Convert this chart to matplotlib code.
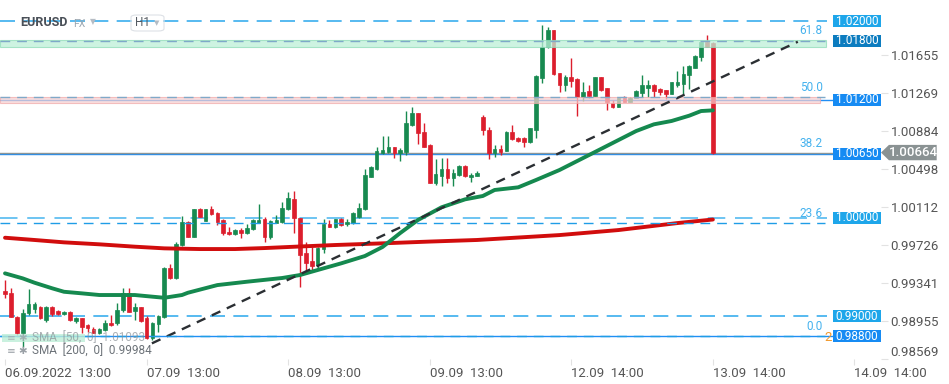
import matplotlib
matplotlib.use("Agg")
import matplotlib.pyplot as plt
import matplotlib.transforms as mtransforms
from matplotlib.patches import Rectangle, Polygon, FancyBboxPatch

plt.rcParams["font.family"] = ["Roboto", "DejaVu Sans"]

# EURUSD H1 candles
opens = [0.99260, 0.99240, 0.98996, 0.98828, 0.99031, 0.99072, 0.99092, 0.98963, 0.99098, 0.99054,
         0.99024, 0.99047, 0.98956, 0.98980, 0.98912, 0.98871, 0.98834, 0.98861, 0.98935, 0.98929,
         0.99064, 0.99234, 0.99057, 0.99092, 0.98980, 0.98777, 0.98922, 0.98996, 0.99488, 0.99386,
         0.99725, 0.99962, 0.99809, 1.00088, 0.99972, 1.00088, 1.00053, 0.99979, 0.99860, 0.99834,
         0.99877, 0.99844, 0.99884, 0.99951, 0.99986, 0.99803, 0.99951, 0.99962, 1.00088, 1.00189,
         0.99996, 0.99641, 0.99565, 0.99521, 0.99681, 0.99938, 0.99905, 0.99986, 0.99935, 0.99945,
         1.00012, 1.00088, 1.00419, 1.00497, 1.00657, 1.00667, 1.00717, 1.00657, 1.00667, 1.00944,
         1.01063, 1.00870, 1.00741, 1.00358, 1.00426, 1.00494, 1.00403, 1.00436, 1.00531, 1.00413,
         1.00426, 1.01022, 1.00893, 1.00663, 1.00697, 1.00683, 1.00876, 1.00809, 1.00809, 1.00768,
         1.00893, 1.01425, 1.01740, 1.01909, 1.01469, 1.01350, 1.01435, 1.01411, 1.01232, 1.01289,
         1.01239, 1.01429, 1.01317, 1.01165, 1.01130, 1.01221, 1.01181, 1.01221, 1.01272, 1.01323,
         1.01350, 1.01310, 1.01297, 1.01262, 1.01350, 1.01361, 1.01452, 1.01526, 1.01638, 1.01784,
         1.01774]
highs = [0.99369, 0.99285, 0.99006, 0.99072, 0.99275, 0.99149, 0.99105, 0.99105, 0.99105, 0.99064,
         0.99054, 0.99054, 0.98996, 0.98986, 0.98919, 0.98895, 0.98881, 0.98963, 0.99014, 0.99133,
         0.99285, 0.99285, 0.99133, 0.99098, 0.99003, 0.98946, 0.99014, 0.99504, 0.99532, 0.99758,
         1.00019, 0.99969, 1.00091, 1.00098, 1.00091, 1.00121, 1.00063, 0.99986, 0.99905, 0.99887,
         0.99895, 0.99938, 0.99986, 1.00141, 1.00012, 0.99979, 1.00030, 1.00165, 1.00266, 1.00273,
         1.00000, 0.99758, 0.99701, 0.99701, 0.99986, 0.99979, 0.99989, 0.99999, 0.99989, 1.00060,
         1.00152, 1.00497, 1.00527, 1.00724, 1.00832, 1.00832, 1.00724, 1.00707, 1.01086, 1.01124,
         1.01069, 1.00961, 1.00751, 1.00596, 1.00606, 1.00606, 1.00494, 1.00538, 1.00538, 1.00453,
         1.00477, 1.01046, 1.00921, 1.00741, 1.00741, 1.00883, 1.00944, 1.00825, 1.00825, 1.00917,
         1.01449, 1.01960, 1.01937, 1.01912, 1.01475, 1.01452, 1.01622, 1.01419, 1.01384, 1.01350,
         1.01435, 1.01432, 1.01323, 1.01198, 1.01218, 1.01236, 1.01229, 1.01297, 1.01452, 1.01401,
         1.01358, 1.01317, 1.01303, 1.01384, 1.01493, 1.01543, 1.01554, 1.01655, 1.01787, 1.01858,
         1.01784]
lows = [0.99186, 0.98993, 0.98810, 0.98692, 0.99014, 0.99031, 0.98975, 0.98946, 0.99006, 0.99019,
        0.99019, 0.98956, 0.98935, 0.98831, 0.98844, 0.98831, 0.98826, 0.98851, 0.98902, 0.98912,
        0.99047, 0.99040, 0.98963, 0.98946, 0.98767, 0.98760, 0.98844, 0.98980, 0.99379, 0.99376,
        0.99715, 0.99806, 0.99806, 1.00006, 0.99969, 1.00030, 0.99928, 0.99826, 0.99826, 0.99826,
        0.99793, 0.99837, 0.99877, 0.99945, 0.99758, 0.99783, 0.99945, 0.99951, 1.00080, 0.99844,
        0.99301, 0.99454, 0.99471, 0.99471, 0.99641, 0.99905, 0.99898, 0.99918, 0.99918, 0.99938,
        0.99999, 1.00080, 1.00413, 1.00487, 1.00649, 1.00657, 1.00606, 1.00581, 1.00639, 1.00934,
        1.00751, 1.00717, 1.00352, 1.00334, 1.00324, 1.00352, 1.00324, 1.00426, 1.00419, 1.00368,
        1.00421, 1.00842, 1.00596, 1.00622, 1.00639, 1.00677, 1.00792, 1.00774, 1.00724, 1.00758,
        1.00815, 1.01368, 1.01729, 1.01455, 1.01282, 1.01289, 1.01333, 1.01039, 1.01188, 1.01215,
        1.01234, 1.01292, 1.01096, 1.01114, 1.01127, 1.01175, 1.01178, 1.01218, 1.01232, 1.01232,
        1.01232, 1.01249, 1.01205, 1.01259, 1.01333, 1.01256, 1.01310, 1.01520, 1.01594, 1.01734,
        1.00650]
closes = [0.99224, 0.98996, 0.98834, 0.99037, 0.99125, 0.99125, 0.98980, 0.99098, 0.99024, 0.99024,
          0.99047, 0.98963, 0.98980, 0.98895, 0.98878, 0.98834, 0.98871, 0.98935, 0.98912, 0.99064,
          0.99234, 0.99047, 0.99092, 0.98956, 0.98777, 0.98935, 0.99003, 0.99488, 0.99386, 0.99735,
          0.99962, 0.99809, 1.00088, 1.00012, 1.00088, 1.00040, 0.99962, 0.99844, 0.99834, 0.99877,
          0.99844, 0.99895, 0.99979, 0.99979, 0.99803, 0.99972, 0.99979, 1.00098, 1.00199, 0.99996,
          0.99623, 0.99545, 0.99511, 0.99691, 0.99938, 0.99911, 0.99986, 0.99928, 0.99962, 1.00047,
          1.00098, 1.00436, 1.00520, 1.00680, 1.00690, 1.00717, 1.00657, 1.00690, 1.00961, 1.01063,
          1.00860, 1.00724, 1.00358, 1.00446, 1.00497, 1.00403, 1.00453, 1.00527, 1.00426, 1.00433,
          1.00453, 1.00893, 1.00663, 1.00697, 1.00670, 1.00876, 1.00799, 1.00784, 1.00768, 1.00910,
          1.01442, 1.01740, 1.01909, 1.01459, 1.01350, 1.01435, 1.01394, 1.01232, 1.01276, 1.01239,
          1.01429, 1.01300, 1.01175, 1.01130, 1.01215, 1.01181, 1.01221, 1.01289, 1.01350, 1.01350,
          1.01289, 1.01282, 1.01262, 1.01378, 1.01378, 1.01459, 1.01543, 1.01648, 1.01784, 1.01740,
          1.00664]

# moving averages (sampled off the chart)
sma50_idx = [0, 3, 5, 8, 10, 13, 16, 19, 22, 25, 27, 30, 31, 36, 41, 47, 50, 53, 57, 61, 64, 67, 70,
             74, 78, 81, 83, 87, 90, 94, 99, 103, 107, 110, 113, 116, 118, 120]
sma50_val = [0.99437, 0.99386, 0.99342, 0.99285, 0.99250, 0.99234, 0.99217, 0.99217, 0.99217, 0.99200,
             0.99189, 0.99217, 0.99240, 0.99318, 0.99352, 0.99390, 0.99420, 0.99471, 0.99539, 0.99613,
             0.99705, 0.99847, 0.99979, 1.00108, 1.00189, 1.00223, 1.00284, 1.00311, 1.00385, 1.00487,
             1.00639, 1.00761, 1.00883, 1.00951, 1.00985, 1.01039, 1.01086, 1.01093]
sma200_idx = [0, 5, 10, 16, 22, 27, 33, 39, 44, 50, 56, 64, 72, 80, 94, 104, 114, 120]
sma200_val = [0.99799, 0.99776, 0.99752, 0.99732, 0.99708, 0.99691, 0.99684, 0.99684, 0.99694, 0.99710,
              0.99725, 0.99742, 0.99760, 0.99776, 0.99826, 0.99877, 0.99948, 0.99984]

trend_idx = [24.9, 134.4]
trend_val = [0.98726, 1.01790]

levels = [1.02000, 1.01800, 1.01200, 1.00650, 1.00000, 0.99000, 0.98800]
level_txt = ["1.02000", "1.01800", "1.01200", "1.00650", "1.00000", "0.99000", "0.98800"]
level_box = ["#1ea6ea", "#0c7cbf", "#168bf3", "#168bf3", "#1ea6ea", "#1ea6ea", "#168bf3"]
fib_vals = [0.98800, 0.99946, 1.00654, 1.01227, 1.01800]
fib_names = ["0.0", "23.6", "38.2", "50.0", "61.8"]
last_price = 1.00664

ytick_vals = [0.98569, 0.98955, 0.99341, 0.99726, 1.00112, 1.00498, 1.00884, 1.01269, 1.01655]
xtick_idx = [0, 24, 48, 72, 96, 120, 144]
xtick_lbl = ["06.09.2022  13:00", "07.09  13:00", "08.09  13:00", "09.09  13:00",
             "12.09  14:00", "13.09  14:00", "14.09  14:00"]

GREEN = "#178a50"
RED = "#dc1e2d"

fig = plt.figure(figsize=(9.49, 3.84), dpi=100)
ax = fig.add_axes([0, 25 / 384, 881 / 949, 359 / 384])
ax.set_xlim(-0.85, 148.5)
ax.set_ylim(0.98567, 1.02214)
for s in ax.spines.values():
    s.set_visible(False)

blend = mtransforms.blended_transform_factory(ax.transAxes, ax.transData)

# zones
ax.add_patch(Rectangle((0, 1.01740), 0.9375, 0.00068, transform=blend,
                       facecolor="#bdf0d8", edgecolor="#8fdcb9", lw=0.8, alpha=0.75, zorder=6))
ax.add_patch(Rectangle((0, 1.01170), 0.931, 0.00060, transform=blend,
                       facecolor="#f9d0d0", edgecolor="#f0a9a9", lw=0.8, alpha=0.7, zorder=6))

# horizontal levels
ax.axhline(1.02000, xmax=0.9387, color="#3aaeee", lw=1.2, ls=(0, (9, 5)), zorder=2)
ax.axhline(1.00000, xmax=0.9387, color="#6cc4f2", lw=1.4, ls=(0, (9, 5)), zorder=2)
ax.axhline(0.99000, xmax=0.9387, color="#3aaeee", lw=1.2, ls=(0, (9, 5)), zorder=2)
ax.axhline(1.01200, xmax=0.9455, color="#1f8ef5", lw=1.0, zorder=2)
ax.axhline(1.00650, xmax=0.9455, color="#1f8ef5", lw=1.0, zorder=2)
ax.axhline(0.98800, xmax=0.9455, color="#1f8ef5", lw=1.0, zorder=2)
ax.axhline(last_price, xmax=0.9455, color="#8c9596", lw=1.0, zorder=2)

# fibonacci levels
for v, n in zip(fib_vals, fib_names):
    col = "#7fa9c9" if n in ("50.0", "61.8") else "#1f9de6"
    if n != "38.2":
        ax.axhline(v, xmax=0.9364, color=col, lw=1.0, ls=(0, (7, 5)), zorder=7)
    ax.text(0.934, v + 0.00035, n, transform=blend, ha="right", va="bottom",
            fontsize=8.5, color="#45b2ee", zorder=8)

# candles
for i in range(len(opens)):
    o, h, l, c = opens[i], highs[i], lows[i], closes[i]
    col = GREEN if c >= o else RED
    ax.vlines(i, l, h, color=col, lw=1.0, zorder=3)
    ax.bar(i, max(abs(c - o), 0.00003), bottom=min(o, c), width=0.62,
           color=col, edgecolor=col, lw=0.5, zorder=4)

# moving averages and trend line
ax.plot(sma200_idx, sma200_val, color="#d10d0d", lw=2.8, solid_capstyle="round", zorder=5)
ax.plot(sma50_idx, sma50_val, color="#15894f", lw=2.8, solid_capstyle="round", zorder=5)
ax.plot(trend_idx, trend_val, color="#2b2f33", lw=1.7, ls=(0, (4, 3)), zorder=6)

# level boxes on the right
for v, t, bc in zip(levels, level_txt, level_box):
    ax.add_patch(Rectangle((0.9455, v - 0.00062), 0.0545, 0.00124, transform=blend,
                           facecolor=bc, edgecolor="none", zorder=10))
    ax.text(0.9728, v, t, transform=blend, ha="center", va="center",
            fontsize=8.5, color="white", zorder=11)

ax.text(0.9445, 0.98790, "2", transform=blend, ha="right", va="center",
        fontsize=9.5, color="#f29a2e", zorder=9)

# last price tag
hh = 0.00078
ax.add_patch(Polygon([(1.0, last_price), (1.009, last_price + hh), (1.0632, last_price + hh),
                      (1.0632, last_price - hh), (1.009, last_price - hh)], closed=True,
                     transform=blend, facecolor="#8a9293", edgecolor="none",
                     clip_on=False, zorder=10))
ax.text(1.0365, last_price, "1.00664", transform=blend, ha="center", va="center",
        fontsize=9.5, color="white", weight="medium", clip_on=False, zorder=11)

# axes ticks
ax.yaxis.tick_right()
ax.set_yticks(ytick_vals)
ax.set_yticklabels(["%.5f" % v for v in ytick_vals])
ax.tick_params(axis="y", length=5, width=0.8, color="#e2e2e2", pad=2,
               labelsize=9.5, labelcolor="#555555")
ax.get_yticklabels()[0].set_va("bottom")
ax.set_xticks(xtick_idx)
ax.set_xticklabels(xtick_lbl, ha="left")
ax.tick_params(axis="x", length=4, width=0.8, color="#e2e2e2", pad=2,
               labelsize=9.5, labelcolor="#555555")

# header
fig.text(20 / 949, 1 - 22 / 384, "EURUSD", va="center", fontsize=9,
         weight="bold", color="#4a5058")
fig.text(73 / 949, 1 - 24 / 384, "FX", va="center", fontsize=7.5, color="#9aa6b0")
fig.text(90 / 949, 1 - 22 / 384, "▼", va="center", fontsize=5.5, color="#b5bcc4",
         family="DejaVu Sans")
fig.add_artist(FancyBboxPatch((131 / 949, 1 - 31 / 384), 33 / 949, 16 / 384,
                              boxstyle="round,pad=0,rounding_size=0.006",
                              transform=fig.transFigure, facecolor="none",
                              edgecolor="#dde1e6", lw=0.8))
fig.text(135 / 949, 1 - 23 / 384, "H1", va="center", fontsize=8.5, color="#555b62")
fig.text(154 / 949, 1 - 23 / 384, "▼", va="center", fontsize=5, color="#b5bcc4",
         family="DejaVu Sans")

# indicator legend
fig.add_artist(Rectangle((2 / 949, 1 - 342 / 384), 83 / 949, 8 / 384,
                         transform=fig.transFigure, facecolor="#bdeed7",
                         edgecolor="none", alpha=0.8))
fig.text(7 / 949, 1 - 338 / 384, "≡ ✱", va="center", fontsize=7.5, color="#9aa0a6",
         alpha=0.7, family="DejaVu Sans")
fig.text(32 / 949, 1 - 338 / 384, "SMA  [50,  0]  1.01093", va="center", fontsize=8.5,
         color="#8a9096", alpha=0.7)
fig.text(7 / 949, 1 - 351 / 384, "≡ ✱", va="center", fontsize=7.5, color="#9aa0a6",
         family="DejaVu Sans")
fig.text(32 / 949, 1 - 351 / 384, "SMA  [200,  0]  0.99984", va="center", fontsize=8.5,
         color="#6d7379")

fig.savefig("out.png", dpi=100)
